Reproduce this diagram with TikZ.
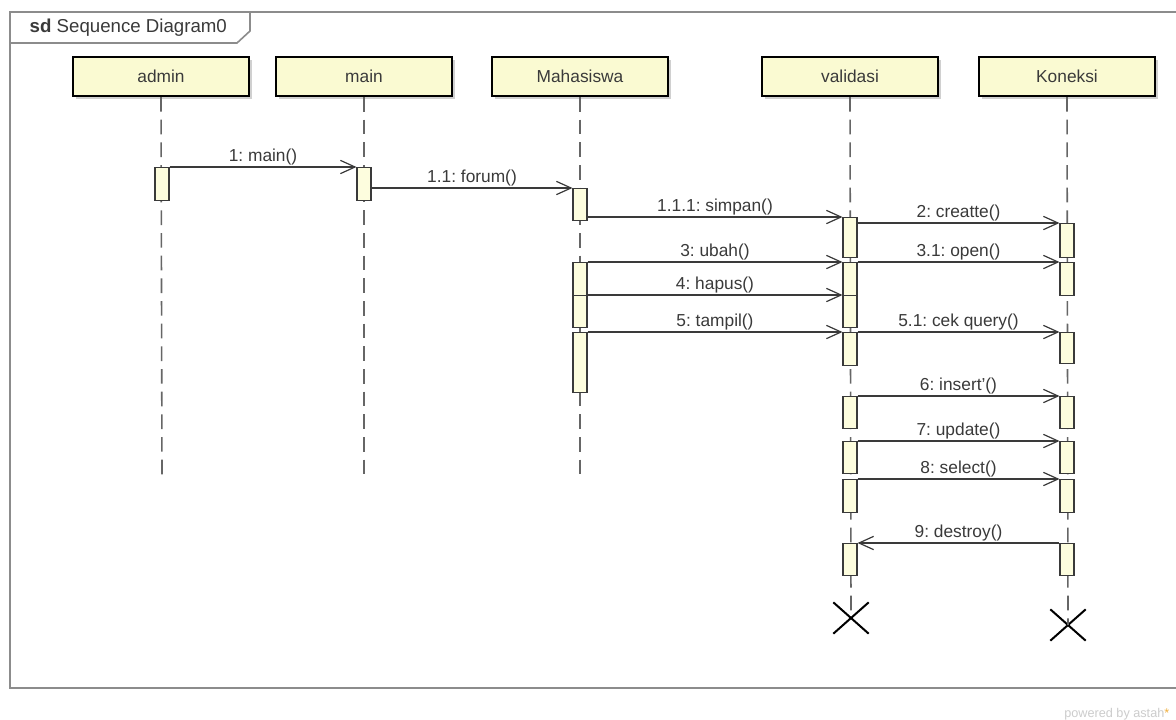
\documentclass[tikz,border=0pt]{standalone}
\usepackage{fontspec}
\setmainfont{Liberation Sans}
\usetikzlibrary{arrows.meta,shadows,shapes.misc}
\definecolor{headfill}{HTML}{FAFAD2}
\definecolor{actfill}{HTML}{FDFDDE}
\definecolor{inkgray}{HTML}{3A3A3A}
\definecolor{framegray}{HTML}{8C8C8C}
\definecolor{astahorange}{HTML}{F0B040}
\frenchspacing
% Activation bar: name, x of lifeline, top y, bottom y (pixel units)
\newcommand\actbox[4]{\node[actbar, anchor=north, minimum height={(#4-#3)*0.75pt}] (#1) at (#2,#3) {};}
\begin{document}
\begin{tikzpicture}[x=0.75pt, y=-0.75pt,
  font=\fontsize{13}{15}\selectfont,
  frameline/.style={draw=framegray, line width=1.2pt},
  head/.style={draw=black, line width=1.8pt, fill=headfill, text=inkgray,
    minimum width=132pt, minimum height=29pt, inner sep=0pt,
    drop shadow={shadow xshift=2pt, shadow yshift=-2pt, fill=black!30, opacity=0.6}},
  lifeline/.style={draw=black!60, line width=1.2pt, dash pattern=on 11pt off 6pt},
  actbar/.style={draw=inkgray, line width=0.8pt, fill=actfill, minimum width=10.5pt, inner sep=0pt},
  msg/.style={draw=inkgray, line width=0.9pt, -{Straight Barb[length=11pt, width=10pt, line width=0.9pt]}},
  lbl/.style={above, inner sep=0.8pt, text=inkgray},
  destroy/.style={cross out, draw=black, line width=1.5pt, minimum width=25pt, minimum height=22pt, inner sep=0pt}
]
\useasboundingbox (0,0) rectangle (1176,719);
\fill[white] (0,0) rectangle (1176,719);

% interaction frame and its name tab
\draw[frameline] (1190,12) -- (10,12) -- (10,688) -- (1190,688);
\draw[frameline] (10,43) -- (237,43) -- (250,31) -- (250,12);
\node[anchor=west, text=inkgray, font=\fontsize{14}{16}\selectfont] (title) at (25,28) {\textbf{sd} Sequence Diagram0};

% participants
\node[head] (admin) at (161,76.5) {admin};
\node[head] (main) at (364,76.5) {main};
\node[head] (mhs) at (580,76.5) {Mahasiswa};
\node[head] (val) at (850,76.5) {validasi};
\node[head] (kon) at (1067,76.5) {Koneksi};

% lifeline ends
\coordinate (adminEnd) at (162,478);
\coordinate (mainEnd) at (364,478);
\coordinate (mhsEnd) at (580,478);
\node[destroy] (valX) at (851,618) {};
\node[destroy] (konX) at (1068,625) {};

\draw[lifeline] (admin.south) -- (adminEnd);
\draw[lifeline] (main.south) -- (mainEnd);
\draw[lifeline] (mhs.south) -- (mhsEnd);
\draw[lifeline] (val.south) -- (valX.center);
\draw[lifeline] (kon.south) -- (konX.center);

% activation bars
\actbox{a1}{162}{167}{200}
\actbox{m1}{364}{167}{200}
\actbox{h1}{580}{188}{220}
\actbox{h2}{580}{262}{295}
\actbox{h3}{580}{295}{327}
\actbox{h4}{580}{332}{392}
\actbox{v1}{850}{217}{257}
\actbox{v2}{850}{262}{295}
\actbox{v3}{850}{295}{327}
\actbox{v4}{850}{332}{365}
\actbox{v5}{850}{396}{428}
\actbox{v6}{850}{441}{473}
\actbox{v7}{850}{479}{512}
\actbox{v8}{850}{543}{575}
\actbox{k1}{1067}{223}{257}
\actbox{k2}{1067}{262}{295}
\actbox{k3}{1067}{332}{363}
\actbox{k4}{1067}{396}{428}
\actbox{k5}{1067}{441}{473}
\actbox{k6}{1067}{479}{512}
\actbox{k7}{1067}{543}{575}

% messages
\draw[msg] (a1.north east) -- node[lbl] {1: main()} (m1.north west);
\draw[msg] (m1.east |- h1.north) -- node[lbl] {1.1: forum()} (h1.north west);
\draw[msg] (h1.east |- v1.north) -- node[lbl] {1.1.1: simpan()} (v1.north west);
\draw[msg] (v1.east |- k1.north) -- node[lbl] {2: creatte()} (k1.north west);
\draw[msg] (h2.north east) -- node[lbl] {3: ubah()} (v2.north west);
\draw[msg] (v2.north east) -- node[lbl] {3.1: open()} (k2.north west);
\draw[msg] (h3.north east) -- node[lbl] {4: hapus()} (v3.north west);
\draw[msg] (h4.north east) -- node[lbl] {5: tampil()} (v4.north west);
\draw[msg] (v4.north east) -- node[lbl] {5.1: cek query()} (k3.north west);
\draw[msg] (v5.north east) -- node[lbl] {6: insert'()} (k4.north west);
\draw[msg] (v6.north east) -- node[lbl] {7: update()} (k5.north west);
\draw[msg] (v7.north east) -- node[lbl] {8: select()} (k6.north west);
\draw[msg] (k7.north west) -- node[lbl] {9: destroy()} (v8.north east);

% tool credit
\node[anchor=east, text=black!20, font=\fontsize{9.5}{11}\selectfont] (credit) at (1174,714) {powered by astah\textcolor{astahorange}{*}};
\end{tikzpicture}
\end{document}
